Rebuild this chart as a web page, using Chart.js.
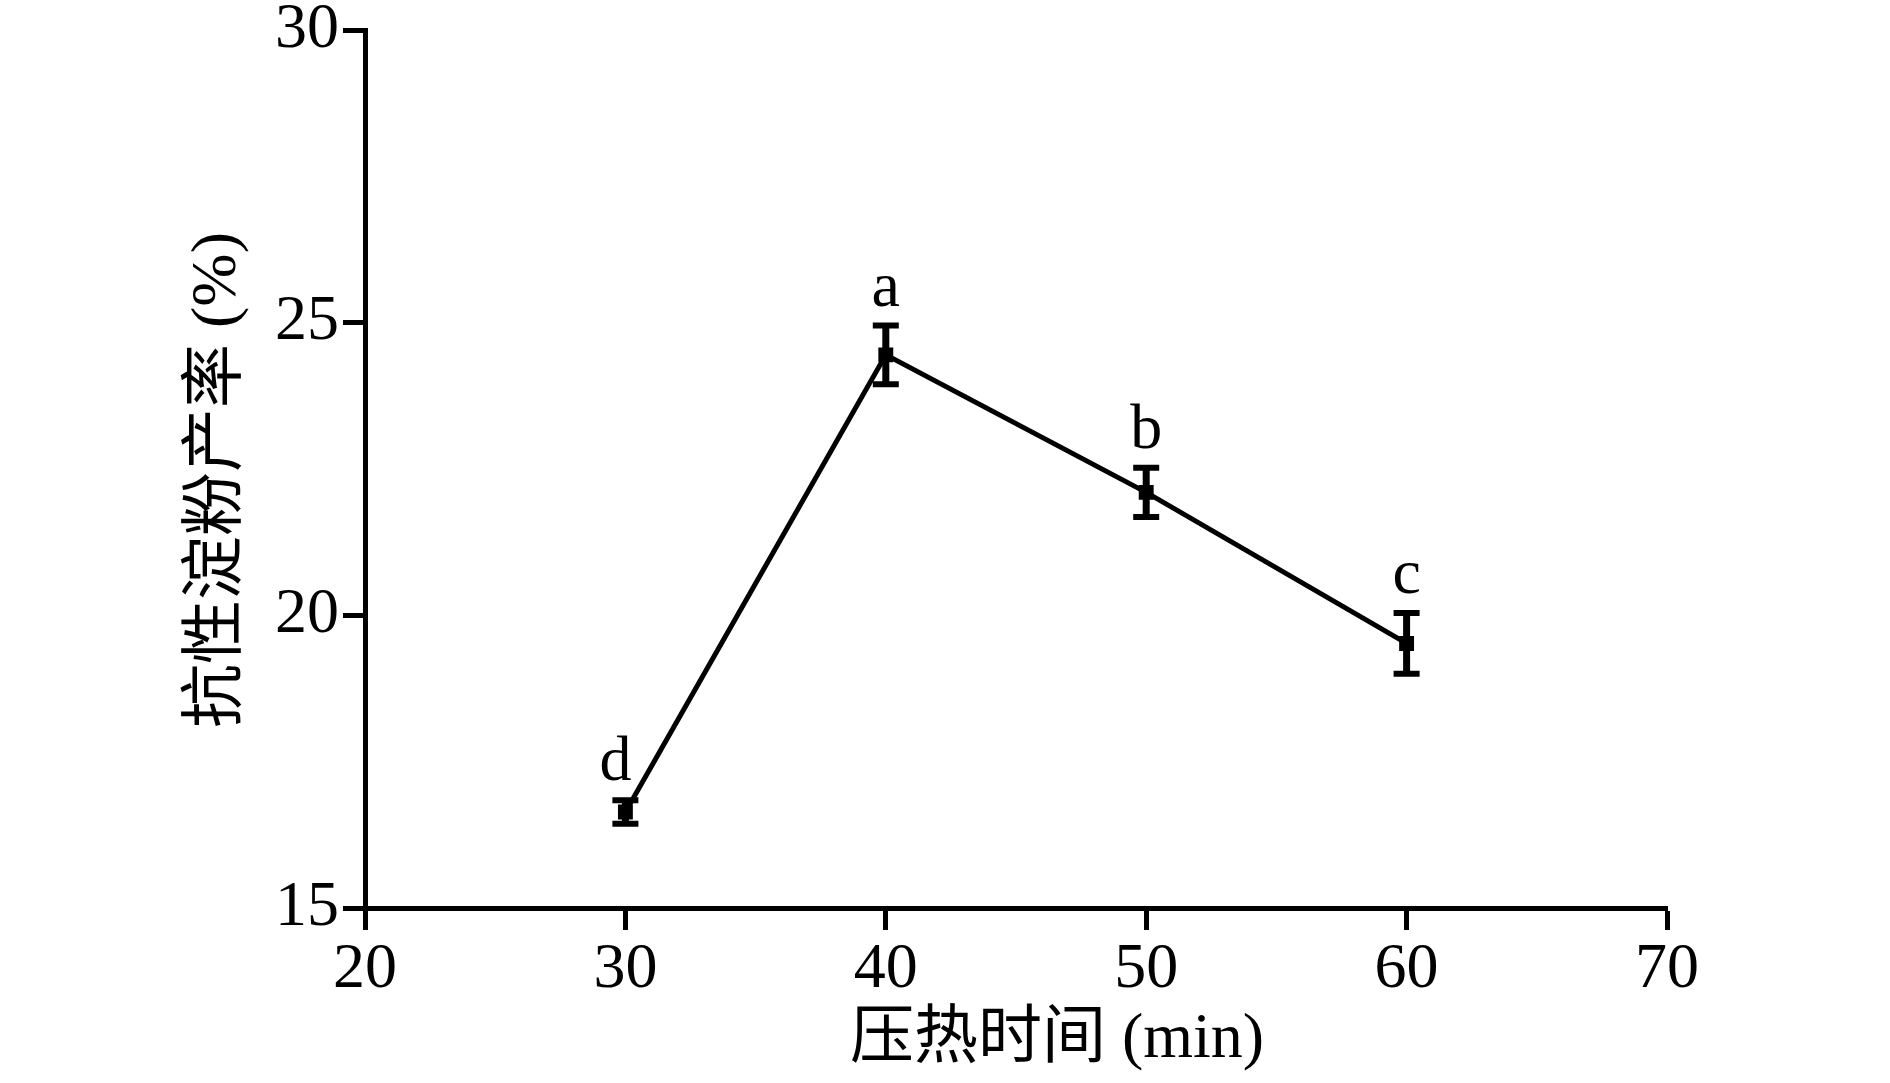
<!DOCTYPE html>
<html>
<head>
<meta charset="utf-8">
<script src="https://cdn.jsdelivr.net/npm/chart.js@4.4.1/dist/chart.umd.min.js"></script>
<style>
  html, body { margin: 0; padding: 0; background: #fff; }
  #wrap { width: 1890px; height: 1083px; }
</style>
</head>
<body>
<div id="wrap"><canvas id="myChart"></canvas></div>
<script>
// data
var times = [30, 40, 50, 60];
var yields = [16.64, 24.45, 22.1, 19.52];
var errs = [0.2, 0.5, 0.42, 0.52];
var letters = ['d', 'a', 'b', 'c'];
var xTickVals = [20, 30, 40, 50, 60, 70];
var yTickVals = [15, 20, 25, 30];
var xTitle = '压热时间 (min)';
var yTitle = '抗性淀粉产率 (%)';

var FONT = '"Liberation Serif", "Times New Roman", "Noto Sans CJK SC", serif';

var pts = [];
for (var i = 0; i < times.length; i++) {
	pts.push({x: times[i], y: yields[i]});
}

// error bars + letters + axis titles
var extras = {
	id: 'extras',
	afterDatasetsDraw: function(chart) {
		var ctx = chart.ctx;
		var xs = chart.scales.x, ys = chart.scales.y;
		ctx.save();
		ctx.strokeStyle = '#000';
		ctx.fillStyle = '#000';
		for (var i = 0; i < times.length; i++) {
			var px = xs.getPixelForValue(times[i]);
			var top = ys.getPixelForValue(yields[i] + errs[i]);
			var bot = ys.getPixelForValue(yields[i] - errs[i]);
			ctx.lineWidth = 7;
			ctx.beginPath();
			ctx.moveTo(px, top); ctx.lineTo(px, bot);
			ctx.stroke();
			ctx.lineWidth = 6;
			ctx.beginPath();
			ctx.moveTo(px - 13, top); ctx.lineTo(px + 13, top);
			ctx.moveTo(px - 13, bot); ctx.lineTo(px + 13, bot);
			ctx.stroke();

			ctx.font = '64px ' + FONT;
			ctx.textAlign = 'center';
			ctx.textBaseline = 'alphabetic';
			ctx.fillText(letters[i], px - (i === 0 ? 10 : 0), top - 20);
		}
		ctx.font = '64px ' + FONT;
		ctx.textAlign = 'center';
		ctx.textBaseline = 'middle';
		ctx.fillText(xTitle, 1057, 1040);
		ctx.translate(218, 480);
		ctx.rotate(-Math.PI / 2);
		ctx.fillText(yTitle, 0, 0);
		ctx.restore();
	}
};

var ctx = document.getElementById('myChart').getContext('2d');
var myChart = new Chart(ctx, {
	type: 'scatter',
	data: {
		datasets: [{
			label: yTitle,
			data: pts,
			showLine: true,
			borderColor: '#000',
			backgroundColor: '#000',
			borderWidth: 5,
			pointStyle: 'rect',
			pointRadius: 7,
			pointHoverRadius: 7
		}]
	},
	options: {
		responsive: true,
		maintainAspectRatio: false,
		animation: false,
		layout: { padding: { top: 30, right: 223, left: 0, bottom: 0 } },
		plugins: {
			legend: { display: false },
			tooltip: { enabled: false }
		},
		scales: {
			x: {
				type: 'linear',
				min: 20, max: 70,
				afterFit: function(s) { s.height = 175; },
				afterBuildTicks: function(s) {
					s.ticks = xTickVals.map(function(v) { return {value: v}; });
				},
				grid: { drawOnChartArea: false, color: '#000', tickLength: 22, tickWidth: 5 },
				border: { color: '#000', width: 5 },
				ticks: { color: '#000', padding: 2, font: { family: FONT, size: 64 } }
			},
			y: {
				min: 15, max: 30,
				afterFit: function(s) {
					s.width = 365;
					s.paddingTop = 0;
					s.paddingBottom = 0;
				},
				afterBuildTicks: function(s) {
					s.ticks = yTickVals.map(function(v) { return {value: v}; });
				},
				grid: { drawOnChartArea: false, color: '#000', tickLength: 22, tickWidth: 5 },
				border: { color: '#000', width: 5 },
				ticks: { color: '#000', padding: 4, font: { family: FONT, size: 64 } }
			}
		}
	},
	plugins: [extras]
});
</script>
</body>
</html>
